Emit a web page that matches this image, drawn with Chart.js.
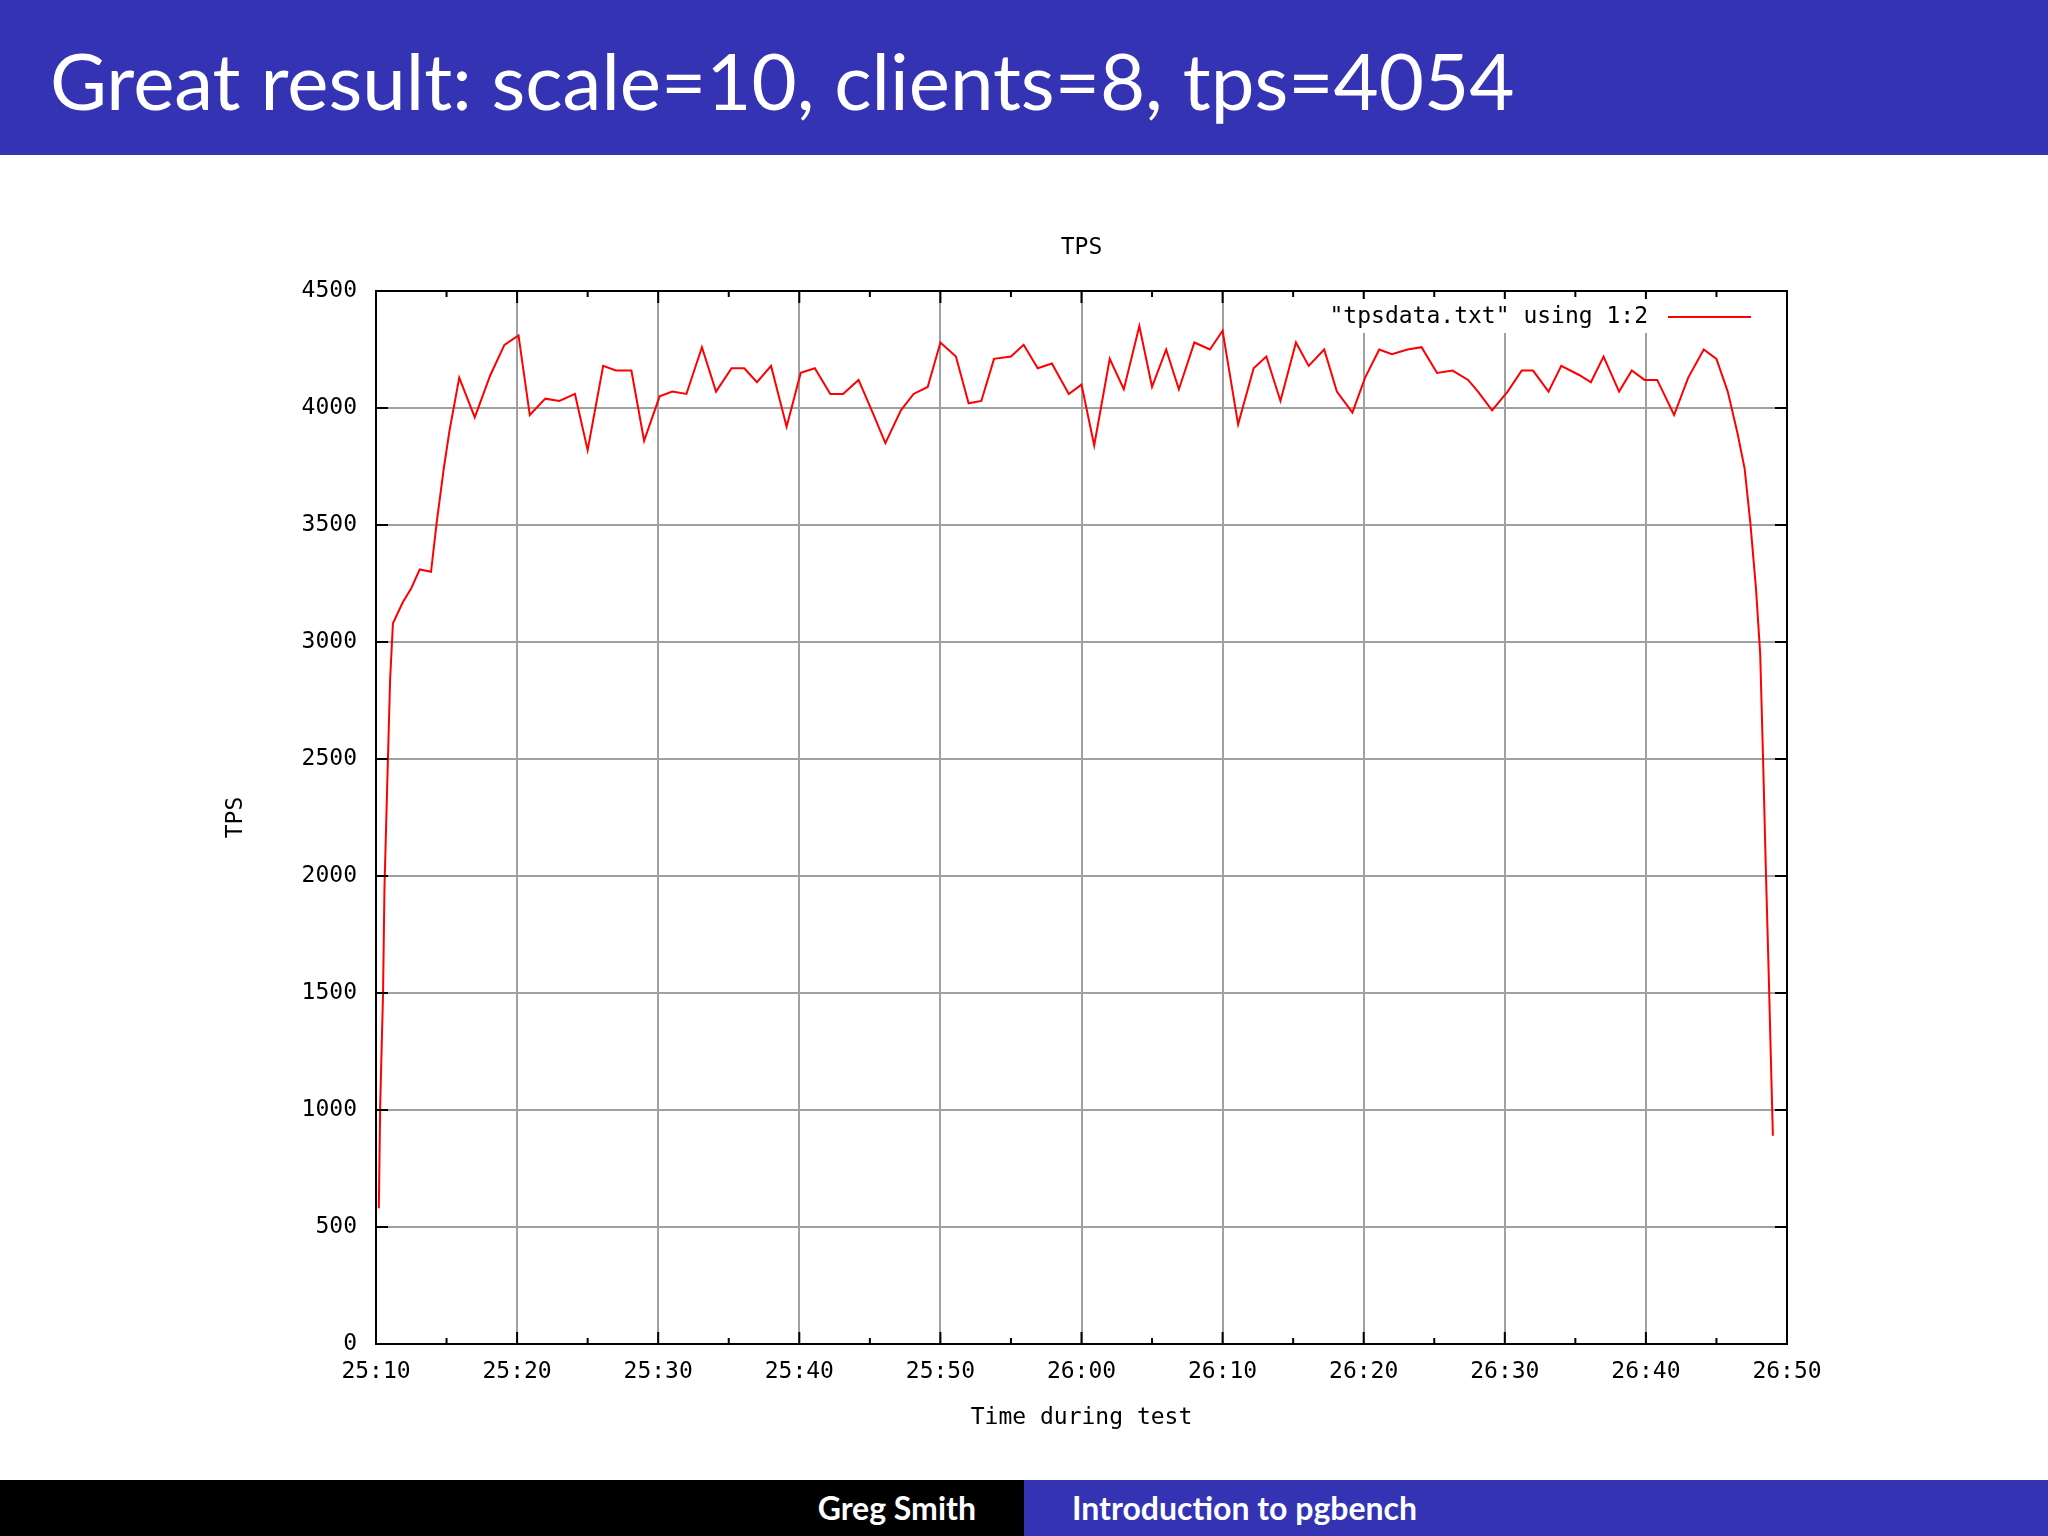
<!DOCTYPE html>
<html>
<head>
<meta charset="utf-8">
<script src="https://cdn.jsdelivr.net/npm/chart.js@4.4.0/dist/chart.umd.min.js"></script>
<style>
  body { margin: 0; width: 2048px; height: 1536px; background: #fff; position: relative; overflow: hidden; font-family: "Open Sans", "DejaVu Sans", sans-serif; }
  #header { position: absolute; left: 0; top: 0; width: 2048px; height: 155px; background: #3333b3; }
  #header h1 { margin: 0; position: absolute; left: 50px; top: 41px; font-weight: normal; font-family: Lato, "Open Sans", sans-serif; font-size: 78px; color: #fff; line-height: 1; }
  #footL { position: absolute; left: 0; top: 1480px; width: 1024px; height: 56px; background: #000; color: #fff; font-weight: bold; font-family: Lato, sans-serif; font-size: 32px; text-align: right; box-sizing: border-box; padding-right: 48px; line-height: 56px; }
  #footR { position: absolute; left: 1024px; top: 1480px; width: 1024px; height: 56px; background: #3333b3; color: #fff; font-weight: bold; font-family: Lato, sans-serif; font-size: 32px; box-sizing: border-box; padding-left: 48px; line-height: 56px; }
  #wrap { position: absolute; left: 0; top: 200px; width: 2048px; height: 1232px; }
</style>
</head>
<body>
<div id="header"><h1>Great result: scale=10, clients=8, tps=4054</h1></div>
<div id="wrap"><canvas id="chart"></canvas></div>
<div id="footL">Greg Smith</div>
<div id="footR">Introduction to pgbench</div>
<script>
// seconds since 25:10
const times = [0.2, 0.3, 0.5, 0.6, 0.8, 1.0, 1.2, 1.9, 2.5, 3.1, 3.9, 4.3, 4.8, 5.2, 5.9, 7.0, 8.1, 9.1, 10.1, 10.9,
  12.0, 13.0, 14.1, 15.0, 16.1, 17.0, 18.1, 19.0, 20.1, 21.0, 22.0, 23.1, 24.1, 25.2, 26.1, 27.0, 28.0, 29.1, 30.1, 31.1,
  32.2, 33.1, 34.2, 35.2, 36.1, 37.2, 38.1, 39.1, 40.0, 41.1, 42.0, 42.9, 43.8, 45.0, 45.9, 46.9, 47.9, 49.1, 50.0, 50.9,
  52.0, 53.0, 54.1, 55.0, 56.0, 56.9, 58.0, 59.1, 60.0, 61.1, 62.2, 63.1, 64.1, 65.2, 66.1, 67.2, 68.1, 69.2, 70.1, 71.1,
  72.0, 73.1, 74.1, 75.2, 76.3, 77.4, 78.1, 79.1, 80.2, 81.2, 82.0, 83.1, 84.0, 85.3, 86.1, 87.0, 88.1, 89.0, 89.9, 90.8,
  92.0, 93.0, 94.1, 95.0, 95.8, 96.5, 97.0, 97.4, 97.8, 98.1, 98.3, 98.5, 98.7, 98.9, 99.0];
const tps = [580, 1030, 1500, 1950, 2400, 2840, 3080, 3170, 3230, 3310, 3300, 3510, 3740, 3900, 4130, 3960, 4140, 4270, 4310, 3970,
  4040, 4030, 4060, 3820, 4180, 4160, 4160, 3860, 4050, 4070, 4060, 4260, 4070, 4170, 4170, 4110, 4180, 3920, 4150, 4170,
  4060, 4060, 4120, 3980, 3850, 3990, 4060, 4090, 4280, 4220, 4020, 4030, 4210, 4220, 4270, 4170, 4190, 4060, 4100, 3840,
  4210, 4080, 4350, 4090, 4250, 4080, 4280, 4250, 4330, 3930, 4170, 4220, 4030, 4280, 4180, 4250, 4070, 3980, 4130, 4250,
  4230, 4250, 4260, 4150, 4160, 4120, 4070, 3990, 4070, 4160, 4160, 4070, 4180, 4140, 4110, 4220, 4070, 4160, 4120, 4120,
  3970, 4130, 4250, 4210, 4070, 3890, 3740, 3510, 3230, 2950, 2510, 2030, 1590, 1120, 890];
const legendLabel = '"tpsdata.txt" using 1:2';
const chartTitle = "TPS";

const mono = "'DejaVu Sans Mono', 'Liberation Mono', monospace";

function timeLabel(t) {
  const total = 25 * 60 + 10 + t;
  const m = Math.floor(total / 60), s = Math.round(total % 60);
  return m + ":" + String(s).padStart(2, "0");
}

const extras = {
  id: "extras",
  afterDraw(chart) {
    const ctx = chart.ctx, a = chart.chartArea;
    const xs = chart.scales.x, ys = chart.scales.y;
    ctx.save();
    ctx.strokeStyle = "#000";
    ctx.lineWidth = 2;
    ctx.strokeRect(a.left, a.top, a.right - a.left, a.bottom - a.top);
    for (let t = 0; t <= 100; t += 5) {
      const x = xs.getPixelForValue(t), len = t % 10 === 0 ? 12 : 6;
      ctx.beginPath();
      ctx.moveTo(x, a.bottom); ctx.lineTo(x, a.bottom - len);
      ctx.moveTo(x, a.top); ctx.lineTo(x, a.top + len);
      ctx.stroke();
    }
    for (let v = 0; v <= 4500; v += 500) {
      const y = ys.getPixelForValue(v);
      ctx.beginPath();
      ctx.moveTo(a.left, y); ctx.lineTo(a.left + 12, y);
      ctx.moveTo(a.right, y); ctx.lineTo(a.right - 12, y);
      ctx.stroke();
    }
    ctx.font = "23px " + mono;
    ctx.textBaseline = "middle";
    // title
    ctx.fillStyle = "#000";
    ctx.textAlign = "center";
    ctx.fillText(chartTitle, (a.left + a.right) / 2, a.top - 43);
    // legend
    ctx.fillStyle = "#fff";
    ctx.fillRect(1225, a.top + 8, 545, 34);
    ctx.fillStyle = "#000";
    ctx.textAlign = "right";
    ctx.fillText(legendLabel, 1648, a.top + 26);
    ctx.strokeStyle = "#ff0000";
    ctx.beginPath();
    ctx.moveTo(1668, a.top + 26); ctx.lineTo(1751, a.top + 26);
    ctx.stroke();
    ctx.restore();
  }
};

new Chart(document.getElementById("chart"), {
  type: "line",
  data: {
    datasets: [{
      data: times.map((t, i) => ({ x: t, y: tps[i] })),
      borderColor: "#ff0000",
      borderWidth: 2,
      pointRadius: 0,
      tension: 0,
      fill: false
    }]
  },
  options: {
    responsive: true,
    maintainAspectRatio: false,
    animation: false,
    layout: { padding: { left: 0, right: 261, top: 91, bottom: 0 } },
    plugins: {
      legend: { display: false },
      tooltip: { enabled: false }
    },
    scales: {
      x: {
        type: "linear", min: 0, max: 100,
        afterFit(s) { s.height = 88; },
        ticks: { stepSize: 10, color: "#000", font: { family: mono, size: 23 }, padding: 14, maxRotation: 0, callback: v => timeLabel(v) },
        grid: { color: "#a0a0a0", lineWidth: 2, drawTicks: false },
        border: { display: false },
        title: { display: true, text: "Time during test", color: "#000", font: { family: mono, size: 23 }, padding: { top: 0, bottom: 0 } }
      },
      y: {
        min: 0, max: 4500,
        afterFit(s) { s.width = 376; },
        ticks: { stepSize: 500, color: "#000", font: { family: mono, size: 23 }, padding: 19, callback: v => String(v) },
        grid: { color: "#a0a0a0", lineWidth: 2, drawTicks: false },
        border: { display: false },
        title: { display: true, text: "TPS", color: "#000", font: { family: mono, size: 23 }, padding: { top: 222, bottom: 0 } }
      }
    }
  },
  plugins: [extras]
});
</script>
</body>
</html>
